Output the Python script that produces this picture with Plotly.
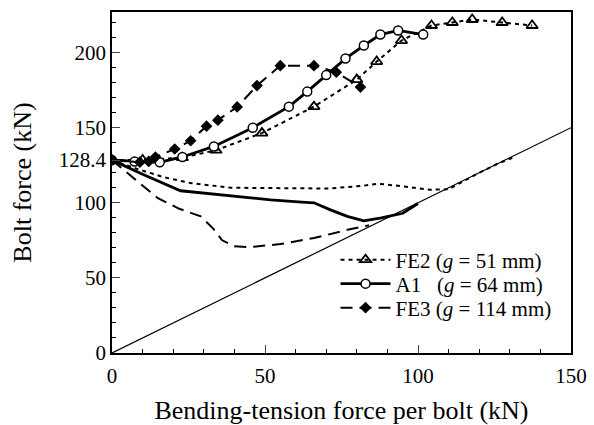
import plotly.graph_objects as go

# ---- data ----
fe2_up_x = [0, 10, 23, 34, 49, 66, 80, 86.5, 94.6, 104.4, 111.2, 117.7, 127.5, 137.3]
fe2_up_y = [128.4, 128.5, 130, 135, 146.4, 164, 182, 194, 208, 218, 220, 222, 220, 218]
fe2_lo_x = [0, 9, 17, 26, 39, 55, 71, 82, 87, 95, 104, 110, 114, 120, 126, 132]
fe2_lo_y = [128.4, 122, 117, 113, 110, 109.5, 109.5, 111.3, 112.7, 111, 108.7, 109, 113.5, 120, 126, 131]

a1_up_x = [0, 7.4, 15.6, 23, 33.3, 46, 57.8, 63.8, 70, 76.3, 82.3, 87.7, 93.5, 101.7]
a1_up_y = [128.4, 127.5, 127, 130.5, 137.5, 150, 164, 174, 185, 196, 204.7, 212, 214.7, 212]
a1_lo_x = [0, 10, 22.4, 38.7, 51.8, 62, 66, 71.4, 76.9, 82.3, 88, 95, 100]
a1_lo_y = [128.4, 119, 108, 104.7, 102, 100.5, 100, 95.3, 91, 88, 90, 93, 99.5]

fe3_up_x = [0, 9.1, 12, 14.2, 20.5, 25.7, 30.9, 34.6, 40.9, 47.4, 55, 66, 73.3, 81.2]
fe3_up_y = [128.4, 127, 127.5, 130.4, 135.8, 141.3, 151, 155, 163.8, 178, 191.3, 191.3, 186.9, 177]
fe3_lo_x = [0, 8, 15, 22, 29, 33, 36, 40, 45, 55, 66, 77, 84]
fe3_lo_y = [128.4, 115, 103, 96, 91, 83, 75, 71, 70.5, 72.5, 76.5, 82, 85]

diag_x = [0, 150]
diag_y = [0, 150]

x_ticks = [0, 50, 100, 150]
y_ticks = [0, 50, 100, 128.4, 150, 200]
y_tick_text = ["0", "50", "100", "128.4", "150", "200"]
x_minor = [10, 20, 30, 40, 60, 70, 80, 90, 110, 120, 130, 140]
y_minor = [10, 20, 30, 40, 60, 70, 80, 90, 110, 120, 130, 140, 160, 170, 180, 190, 210, 220]

names = ["FE2 (<i>g</i> = 51 mm)", "A1\u00a0\u00a0\u00a0(<i>g</i> = 64 mm)", "FE3 (<i>g</i> = 114 mm)"]

FONT = "Liberation Serif, Times New Roman, serif"
fig = go.Figure()

fig.add_trace(go.Scatter(x=diag_x, y=diag_y, mode="lines", line=dict(color="black", width=1.2),
                         showlegend=False, hoverinfo="skip"))
fig.add_trace(go.Scatter(x=fe2_lo_x, y=fe2_lo_y, mode="lines", line=dict(color="black", width=2, dash="4px,4px"),
                         showlegend=False))
fig.add_trace(go.Scatter(x=a1_lo_x, y=a1_lo_y, mode="lines", line=dict(color="black", width=2.8),
                         showlegend=False))
fig.add_trace(go.Scatter(x=fe3_lo_x, y=fe3_lo_y, mode="lines", line=dict(color="black", width=2, dash="12px,7px"),
                         showlegend=False))

fig.add_trace(go.Scatter(x=fe2_up_x, y=fe2_up_y, mode="lines+markers", name=names[0], legend="legend",
                         line=dict(color="black", width=2, dash="4px,4px"),
                         marker=dict(symbol="triangle-up-open", size=10, color="black", line=dict(width=1.8))))
fig.add_trace(go.Scatter(x=a1_up_x, y=a1_up_y, mode="lines+markers", name=names[1], legend="legend2",
                         line=dict(color="black", width=2.8),
                         marker=dict(symbol="circle", size=9, color="white", line=dict(color="black", width=1.5))))
fig.add_trace(go.Scatter(x=fe3_up_x, y=fe3_up_y, mode="lines+markers", name=names[2], legend="legend3",
                         line=dict(color="black", width=2, dash="12px,7px"),
                         marker=dict(symbol="diamond", size=9, color="black")))

def leg(ypx):
    # legend row centred at pixel ypx (plot area: top 12, bottom 353)
    return dict(x=0.487, y=(353 - ypx) / 341, xanchor="left", yanchor="middle", bgcolor="rgba(0,0,0,0)",
                font=dict(family=FONT, size=21), itemwidth=50)

fig.update_layout(
    width=594, height=425,
    margin=dict(l=112, r=23, t=12, b=72),
    paper_bgcolor="white", plot_bgcolor="white",
    font=dict(family=FONT, size=21, color="black"),
    legend=leg(260), legend2=leg(284), legend3=leg(308),
    xaxis=dict(range=[0, 150], tickvals=x_ticks, ticks="inside", ticklen=8, tickwidth=1.2, automargin=False,
               showline=True, linecolor="black", linewidth=1.5, mirror=True, showgrid=False, zeroline=False,
               minor=dict(tickmode="array", tickvals=x_minor, ticks="inside", ticklen=4, tickcolor="black"),
               title=dict(text="Bending-tension force per bolt (kN)", font=dict(size=26), standoff=14),
               tickfont=dict(size=21), ticklabelstandoff=3),
    yaxis=dict(range=[0, 227], tickvals=y_ticks, ticktext=y_tick_text, ticks="inside", ticklen=8, tickwidth=1.2,
               automargin=False,
               showline=True, linecolor="black", linewidth=1.5, mirror=True, showgrid=False, zeroline=False,
               minor=dict(tickmode="array", tickvals=y_minor, ticks="inside", ticklen=4, tickcolor="black"),
               title=dict(text="Bolt force (kN)", font=dict(size=26), standoff=20),
               tickfont=dict(size=21)),
)

fig.write_html("out.html", post_script="document.body.style.margin='0';",
               config={"displayModeBar": False})
